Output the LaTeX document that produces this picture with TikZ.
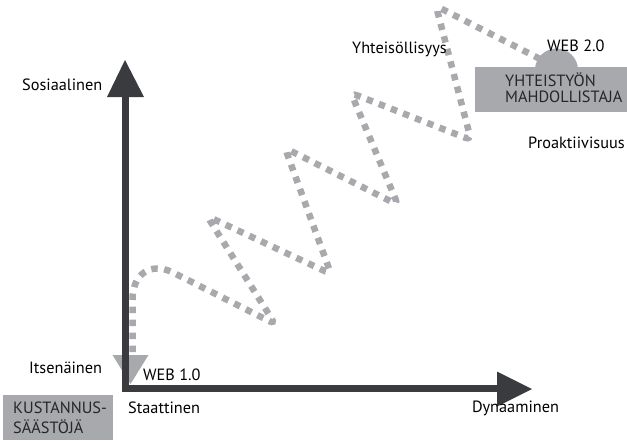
\documentclass[tikz,border=0pt]{standalone}
\usepackage{fontspec}
\setmainfont{PT Sans}
\definecolor{axisgray}{HTML}{3A3B3F}
\definecolor{lightgray}{HTML}{A7A9AC}
\begin{document}
\begin{tikzpicture}[x=1pt,y=-1pt,
  lbl/.style={font=\fontsize{16.3}{18}\selectfont, inner sep=0pt, anchor=west, text=black},
  boxlbl/.style={font=\fontsize{16.3}{18}\selectfont, inner sep=0pt, anchor=west, text=black!85},
  axisline/.style={draw=axisgray, line width=7pt},
  headfill/.style={fill=axisgray},
  wave/.style={draw=lightgray, line width=6.5pt, dash pattern=on 6.5pt off 6.5pt, line cap=butt},
  graybox/.style={fill=lightgray}
]
\useasboundingbox (0,0) rectangle (627,440);

% wave
\draw[wave] (132.5,352) -- (132.5,300) .. controls (132.5,274) and (150,262) .. (172,272)
  [rounded corners=6pt] -- (275,324) -- (207,216) -- (331,274) -- (285,148) -- (398,205) -- (351,93) -- (471,140) -- (436,6) -- (542,60);

% web 2.0 semicircle and box
\fill[lightgray] (556.5,70) circle[radius=21.5];
\node[graybox, minimum width=152pt, minimum height=45pt, inner sep=0pt, anchor=north west] (box2) at (475,67) {};
\node[boxlbl] (b2a) at (505,80) {YHTEISTYÖN};
\node[boxlbl] (b2b) at (505,97) {MAHDOLLISTAJA};

% web 1.0 triangle
\fill[lightgray] (112.5,355) -- (148.5,355) -- (130.5,384) -- cycle;

% axes
\coordinate (O) at (121.5,388.5);
\coordinate (Ytop) at (125,60);
\coordinate (Xend) at (532,389);
\draw[axisline] (125,392) -- (125,96);
\draw[axisline] (O) -- (498,388.5);
\fill[headfill] (107,97) -- (144,97) -- (Ytop) -- cycle;
\fill[headfill] (497,371.5) -- (497,406.5) -- (Xend) -- cycle;

% bottom left box
\node[graybox, minimum width=110pt, minimum height=45pt, inner sep=0pt, anchor=north west] (box1) at (3,395) {};
\node[boxlbl] (b1a) at (13,408) {KUSTANNUS-};
\node[boxlbl] (b1b) at (13,427) {SÄÄSTÖJÄ};

% labels
\node[lbl] (sos) at (22,85) {Sosiaalinen};
\node[lbl] (its) at (29,368) {Itsenäinen};
\node[lbl] (web1) at (143,375) {WEB 1.0};
\node[lbl] (sta) at (128,408) {Staattinen};
\node[lbl] (dyn) at (472,408) {Dynaaminen};
\node[lbl] (yht) at (352,49) {Yhteisöllisyys};
\node[lbl] (web2) at (547,46) {WEB 2.0};
\node[lbl] (pro) at (528,143) {Proaktiivisuus};
\end{tikzpicture}
\end{document}
